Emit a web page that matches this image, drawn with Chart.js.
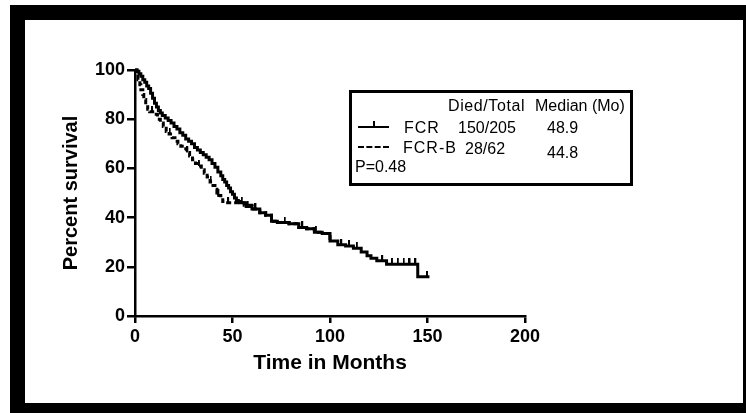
<!DOCTYPE html>
<html>
<head>
<meta charset="utf-8">
<script src="https://cdn.jsdelivr.net/npm/chart.js@4.4.0/dist/chart.umd.min.js"></script>
<style>
html, body { margin: 0; padding: 0; background: #fff; overflow: hidden; }
#wrap { position: relative; width: 746px; height: 413px; }
#frame { position: absolute; left: 10px; top: 5px; width: 746px; height: 413px; box-sizing: border-box;
  border-style: solid; border-color: #000; border-width: 15px 13px 15px 15px; pointer-events: none; }
#legend { position: absolute; left: 349px; top: 90px; width: 284px; height: 96px; box-sizing: border-box; border: 3px solid #000; }
.t { position: absolute; font-family: "Liberation Sans", Arial, sans-serif; font-size: 16px; line-height: 1; color: #000; white-space: nowrap; }
.ln { position: absolute; height: 0; }
</style>
</head>
<body>
<div id="wrap">
  <canvas id="km" width="746" height="413"></canvas>
  <div id="frame"></div>
  <div id="legend"></div>
  <div class="t" style="left:448px; top:98px; letter-spacing:0.6px;">Died/Total</div>
  <div class="t" style="left:535px; top:98px;">Median (Mo)</div>
  <div class="ln" style="left:358px; top:126px; width:31px; border-top:2.5px solid #000;"></div>
  <div class="ln" style="left:373px; top:121px; width:0; height:6px; border-left:2px solid #000;"></div>
  <div class="t" style="left:404px; top:120px; letter-spacing:1px;">FCR</div>
  <div class="t" style="left:458px; top:120px;">150/205</div>
  <div class="t" style="left:547px; top:120px;">48.9</div>
  <div class="ln" style="left:358px; top:146px; width:31px; border-top:2.5px dashed #000;"></div>
  <div class="t" style="left:403px; top:140px; letter-spacing:1px;">FCR-B</div>
  <div class="t" style="left:465px; top:141px;">28/62</div>
  <div class="t" style="left:547px; top:145px;">44.8</div>
  <div class="t" style="left:355px; top:159px;">P=0.48</div>
</div>
<script>
// Kaplan-Meier curves (months, % surviving)
const fcrTime = [0, 1, 2, 3, 4, 5, 6, 7, 8, 9, 10, 11, 12, 13, 14, 15.5, 17, 18.5, 20, 21.5, 23, 24.5, 26, 27.5, 29, 30.5, 32, 33.5, 35, 36.5, 38, 39.5, 41, 42.5, 44, 45, 46, 47, 48, 49, 50, 51, 52, 53, 54, 57, 60, 64, 67, 70, 73, 79, 84, 88, 92, 96, 100, 104, 108, 112, 116, 119, 121, 124, 129, 145, 151];
const fcrSurv = [100, 99.5, 98.5, 97.5, 96, 95, 93.5, 92.5, 90.5, 88.5, 86.5, 85, 83.5, 82.5, 81.5, 80.5, 79.5, 78.5, 77, 76, 74.5, 73.5, 72, 71, 70, 68.5, 67.5, 66.5, 65.5, 64.5, 63.5, 62, 60.5, 58.5, 57, 55.5, 54.5, 53, 52, 50.5, 49.5, 48, 47, 46.5, 46, 44.5, 43.5, 42, 41, 38.5, 38, 37.5, 36, 35.5, 34, 33.5, 30.5, 29, 28.5, 27.5, 26, 24.5, 23.5, 22.5, 21, 16, 16];
const fcrbTime = [0, 1, 1.5, 2.5, 3, 4, 4.5, 5.5, 6.5, 7.5, 10, 11.5, 13, 14.5, 16, 17.5, 19, 20.5, 22, 23.5, 25, 26.5, 28, 29.5, 31, 32.5, 34, 35.5, 37, 38.5, 40, 41, 42, 43, 44, 45, 46, 52, 56, 60, 64, 67, 70, 73, 79, 84, 88, 92, 96, 100];
const fcrbSurv = [100, 98, 96, 94, 92, 90, 88, 86, 84, 83, 82, 80, 78.5, 77, 75, 74, 72.5, 71, 70, 69, 68, 66.5, 65, 63.5, 62, 61, 59.5, 58, 56.5, 54.5, 53, 51.5, 50, 49, 48, 46.5, 46, 46, 45, 43.5, 42, 41, 38.5, 38, 37.5, 36, 35.5, 34, 33.5, 30.5];
const fcrCensor = [58, 62, 77, 86, 93, 106, 110, 114, 127, 132, 135, 138, 141, 144, 150];
const fcrbCensor = [9, 18, 27, 33, 39, 43, 48, 55];
const xTicks = [0, 50, 100, 150, 200];
const yTicks = [0, 20, 40, 60, 80, 100];

function survAt(times, surv, t) {
    let s = surv[0];
    for (let i = 0; i < times.length; i++) {
        if (times[i] <= t) s = surv[i];
    }
    return s;
}

// small upward censor tick
const tickMark = document.createElement('canvas');
tickMark.width = 3;
tickMark.height = 12;
const tc = tickMark.getContext('2d');
tc.fillStyle = '#000';
tc.fillRect(0, 0, 2, 6);

const font = 'Liberation Sans, Arial, sans-serif';

new Chart(document.getElementById('km'), {
    type: 'line',
    data: {
        datasets: [{
            label: 'FCR',
            data: fcrTime.map((t, i) => ({ x: t, y: fcrSurv[i] })),
            borderColor: '#000',
            borderWidth: 3,
            stepped: 'before',
            pointRadius: 0,
            fill: false,
            clip: false
        }, {
            label: 'FCR-B',
            data: fcrbTime.map((t, i) => ({ x: t, y: fcrbSurv[i] })),
            borderColor: '#000',
            borderWidth: 3,
            borderDash: [5, 3],
            stepped: 'before',
            pointRadius: 0,
            fill: false,
            clip: false
        }, {
            label: 'FCR censored',
            data: fcrCensor.map(t => ({ x: t, y: survAt(fcrTime, fcrSurv, t) })),
            showLine: false,
            pointStyle: tickMark,
            pointRadius: 4
        }, {
            label: 'FCR-B censored',
            data: fcrbCensor.map(t => ({ x: t, y: survAt(fcrbTime, fcrbSurv, t) })),
            showLine: false,
            pointStyle: tickMark,
            pointRadius: 4
        }]
    },
    options: {
        responsive: false,
        animation: false,
        layout: { padding: { left: 50, right: 221, top: 70, bottom: 0 } },
        plugins: { legend: { display: false }, tooltip: { enabled: false } },
        scales: {
            x: {
                type: 'linear',
                min: 0,
                max: 200,
                afterBuildTicks: s => { s.ticks = xTicks.map(v => ({ value: v })); },
                afterFit: s => { s.height = 97; },
                ticks: { color: '#000', padding: 3, maxRotation: 0, font: { family: font, size: 18, weight: 'bold' } },
                grid: { drawOnChartArea: false, color: '#000', lineWidth: 2.5, tickLength: 7 },
                border: { color: '#000', width: 2.5 },
                title: {
                    display: true,
                    text: 'Time in Months',
                    color: '#000',
                    font: { family: font, size: 21, weight: 'bold' },
                    padding: { top: 0, bottom: 37 }
                }
            },
            y: {
                min: 0,
                max: 100,
                afterBuildTicks: s => { s.ticks = yTicks.map(v => ({ value: v })); },
                afterFit: s => { s.width = 85; },
                ticks: { color: '#000', padding: 2, font: { family: font, size: 18, weight: 'bold' } },
                grid: { drawOnChartArea: false, color: '#000', lineWidth: 2.5, tickLength: 8 },
                border: { color: '#000', width: 2.5 },
                title: {
                    display: true,
                    text: 'Percent survival',
                    color: '#000',
                    font: { family: font, size: 20, weight: 'bold' },
                    padding: { top: 9, bottom: 0 }
                }
            }
        }
    }
});
</script>
</body>
</html>
